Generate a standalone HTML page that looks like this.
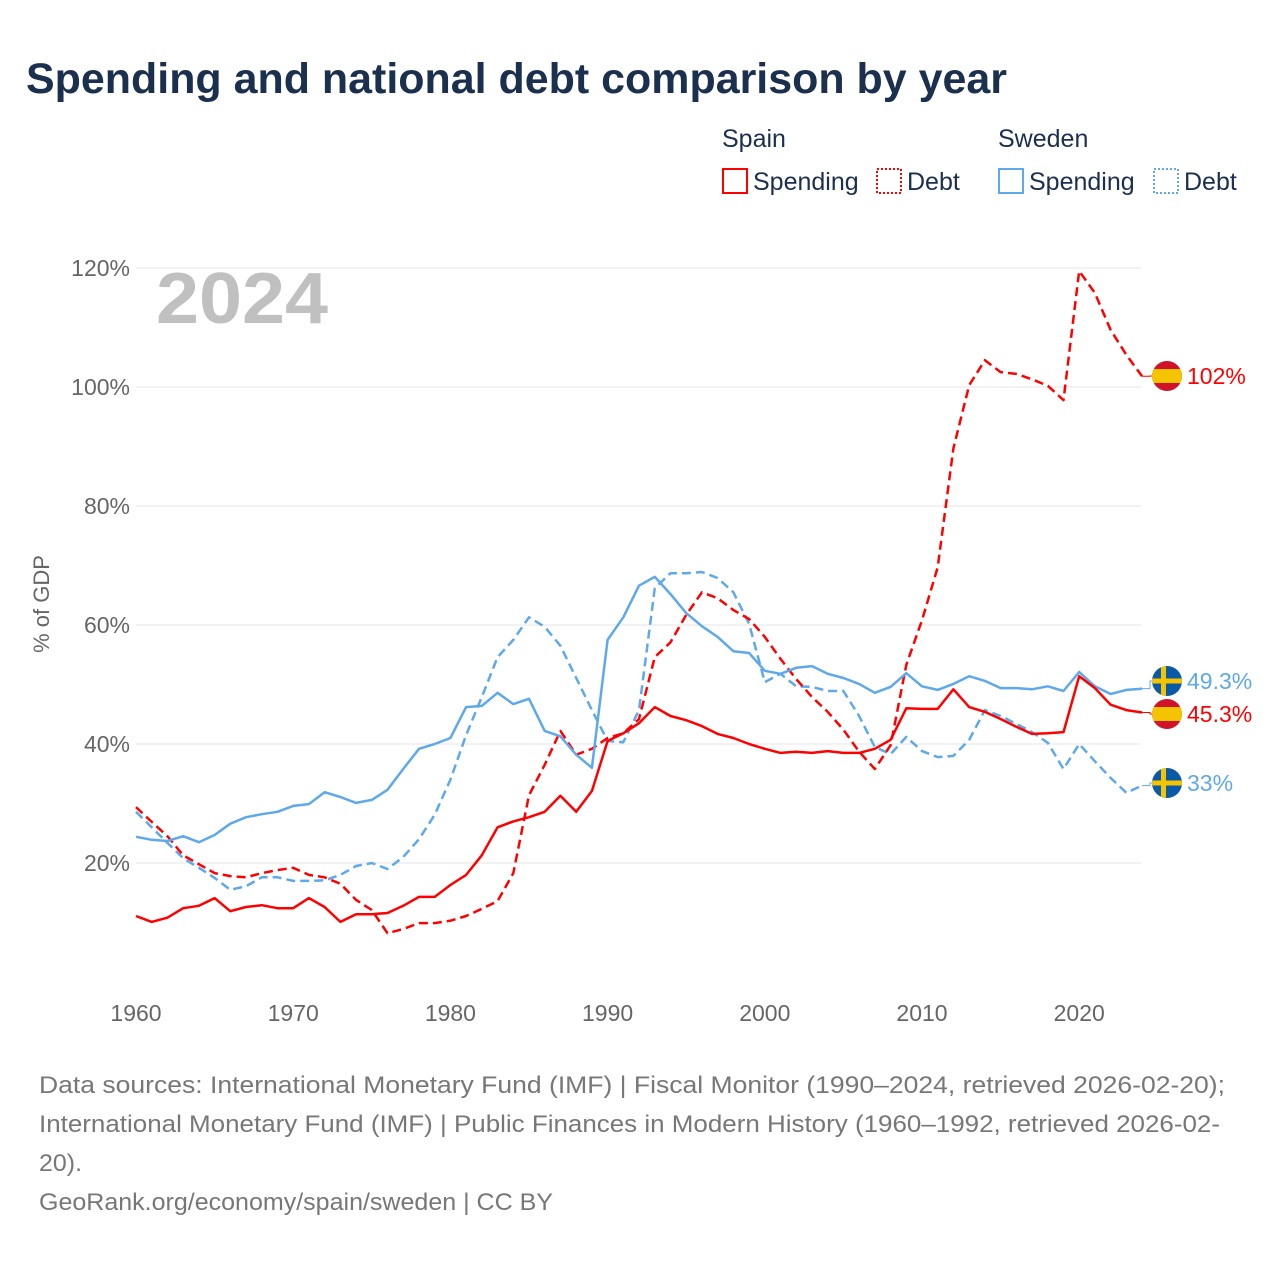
<!DOCTYPE html>
<html><head><meta charset="utf-8"><style>
body{margin:0;background:#fff;font-family:"Liberation Sans",sans-serif}
#wrap{position:relative;width:1280px;height:1280px;overflow:hidden}
</style></head><body>
<div id="wrap">
<svg id="chart" width="1280" height="1280" xmlns="http://www.w3.org/2000/svg"></svg>
</div>
<script>
const years=[];for(let y=1960;y<=2024;y++)years.push(y);
const esSpending=[11.1,10.1,10.8,12.4,12.8,14.1,11.9,12.6,12.9,12.4,12.4,14.1,12.6,10.1,11.4,11.4,11.6,12.8,14.3,14.3,16.3,18,21.3,26,27,27.7,28.6,31.3,28.6,32.1,40.5,41.8,43.5,46.2,44.7,44,43,41.7,41,40,39.2,38.5,38.7,38.5,38.8,38.5,38.5,39.2,40.7,46,45.9,45.9,49.2,46.2,45.4,44.2,42.9,41.7,41.8,42,51.4,49.4,46.6,45.7,45.3];
const esDebt=[29.4,26.9,24.5,21.3,19.8,18.3,17.8,17.6,18.3,18.8,19.2,18,17.6,16.5,13.8,12.1,8.2,8.9,9.9,9.9,10.3,11.1,12.3,13.6,18.3,31.4,36.5,42.2,38.2,39.2,41,41.8,44.2,54.6,57.1,61.7,65.5,64.5,62.5,61,58,54.3,50.9,47.9,45.4,42.4,38.7,35.8,39.8,53.3,60.8,69.7,89.7,100.3,104.5,102.5,102.2,101.3,100.2,97.8,119.5,115.8,109.6,105.4,101.8];
const seSpending=[24.4,23.9,23.7,24.5,23.5,24.7,26.6,27.7,28.2,28.6,29.6,29.9,31.9,31.1,30.1,30.6,32.3,35.8,39.2,40,41,46.2,46.4,48.6,46.7,47.6,42.2,41.3,38.2,36,57.5,61.3,66.6,68.1,65.2,62,59.8,58,55.6,55.3,52.3,51.8,52.8,53.1,51.8,51.1,50.1,48.6,49.6,51.9,49.7,49.1,50.1,51.4,50.6,49.4,49.4,49.2,49.7,48.9,52.1,49.7,48.4,49.1,49.3];
const seDebt=[28.6,26,23.4,20.8,19.2,17.5,15.5,16.1,17.6,17.6,17,17,17.1,18,19.5,20,19,21,24,28.1,34,41.5,47.9,54.6,57.5,61.3,59.7,56.5,51.1,45.7,40.5,40.3,45.7,66.2,68.7,68.7,68.9,67.9,65.5,60.2,50.4,51.8,49.7,49.6,48.9,48.9,44.7,39.5,38.3,41.2,38.8,37.8,38,40.7,45.7,44.7,43.4,42,40.2,35.8,40,37.1,34.3,31.8,33];
const yTicks=[20,40,60,80,100,120];
const xTicks=[1960,1970,1980,1990,2000,2010,2020];
const endLabels=["102%","49.3%","45.3%","33%"];

const X=y=>136+(y-1960)*15.72;
const Y=v=>982-v*5.95;
const svg=document.getElementById('chart');
const NS='http://www.w3.org/2000/svg';
function el(t,a,txt){const e=document.createElementNS(NS,t);for(const k in a)e.setAttribute(k,a[k]);if(txt!==undefined)e.textContent=txt;svg.appendChild(e);return e;}

let t=el('text',{x:26,y:93,'font-size':43,'font-weight':'bold',fill:'#1b2f4e',textLength:981,lengthAdjust:'spacingAndGlyphs'},'Spending and national debt comparison by year');



const leg=[[722,'Spain'],[998,'Sweden']];
leg.forEach(([x,n])=>{const e=el('text',{x:x,y:147,'font-size':25,fill:'#1b2f4e'},n);

});
const items=[[722,'#f00','none','Spending'],[876,'#f00','2,2','Debt'],[998,'#5ea8ec','none','Spending'],[1153,'#5ea8ec','2,2','Debt']];
items.forEach(([x,c,d,n],i)=>{const r=el('rect',{x:x+1,y:169,width:24,height:24,fill:'none',stroke:c,'stroke-width':2,'stroke-dasharray':d});


const e=el('text',{x:x+31,y:190,'font-size':25,fill:'#1b2f4e'},n);

});

yTicks.forEach(v=>{const l=el('line',{x1:136,x2:1141,y1:Y(v),y2:Y(v),stroke:'#e6e6e6','stroke-width':1});


const e=el('text',{x:130,y:Y(v)+8,'font-size':23,fill:'#666','text-anchor':'end'},v+'%');

});
xTicks.forEach(v=>{const e=el('text',{x:X(v),y:1021,'font-size':23,fill:'#666','text-anchor':'middle'},String(v));

});
t=el('text',{x:0,y:0,'font-size':22,fill:'#666','text-anchor':'middle',transform:'translate(49,604) rotate(-90)'},'% of GDP');


t=el('text',{x:156,y:323,'font-size':72,'font-weight':'bold',fill:'#c0c0c0',textLength:172,lengthAdjust:'spacingAndGlyphs'},'2024');



function line(data,c,dash,name){const d=data.map((v,i)=>(i?'L':'M')+X(years[i]).toFixed(1)+','+Y(v).toFixed(1)).join('');
const p=el('path',{d:d,fill:'none',stroke:c,'stroke-width':2.5,'stroke-dasharray':dash,'stroke-linejoin':'round'});

}
line(seDebt,'#5ea8ec','9,5','sweden-debt-line');
line(esDebt,'#f00','9,5','spain-debt-line');
line(seSpending,'#5ea8ec','none','sweden-spending-line');
line(esSpending,'#f00','none','spain-spending-line');

const ends=[[esDebt,'es','#f00',0],[seSpending,'se','#5ea8ec',1],[esSpending,'es','#f00',2],[seDebt,'se','#5ea8ec',3]];
const labY=[376,681,714,783];
ends.forEach(([d,f,c,i])=>{const v=d[d.length-1];const x0=X(2024),y0=Y(v),ly=labY[i];
const cn=el('path',{d:`M${x0},${y0}L1150,${y0}L1150,${ly}L1156,${ly}`,fill:'none',stroke:c,'stroke-width':1});


const g=document.createElementNS(NS,'g');svg.appendChild(g);


const cx=1167,r=15;
const clip='c'+i;
g.innerHTML=`<clipPath id="${clip}"><circle cx="${cx}" cy="${ly}" r="${r}"/></clipPath>`+
(f==='es'?`<g clip-path="url(#${clip})"><rect x="${cx-r}" y="${ly-r}" width="30" height="30" fill="#d1132a"/><rect x="${cx-r}" y="${ly-7}" width="30" height="14" fill="#f5c400"/></g>`
:`<g clip-path="url(#${clip})"><rect x="${cx-r}" y="${ly-r}" width="30" height="30" fill="#0b5aa8"/><rect x="${cx-r}" y="${ly-2.5}" width="30" height="5" fill="#f5c400"/><rect x="${cx-6}" y="${ly-r}" width="5" height="30" fill="#f5c400"/></g>`);
const e=el('text',{x:1187,y:ly+8,'font-size':23,fill:c},endLabels[i]);

});

const foot=['Data sources: International Monetary Fund (IMF) | Fiscal Monitor (1990–2024, retrieved 2026-02-20);','International Monetary Fund (IMF) | Public Finances in Modern History (1960–1992, retrieved 2026-02-','20).','GeoRank.org/economy/spain/sweden | CC BY'];
const footW=[1186,1181,43,514];
foot.forEach((s,i)=>{const e=el('text',{x:39,y:1093+i*39,'font-size':24,fill:'#777',textLength:footW[i],lengthAdjust:'spacingAndGlyphs'},s);

});
</script>
</body></html>
